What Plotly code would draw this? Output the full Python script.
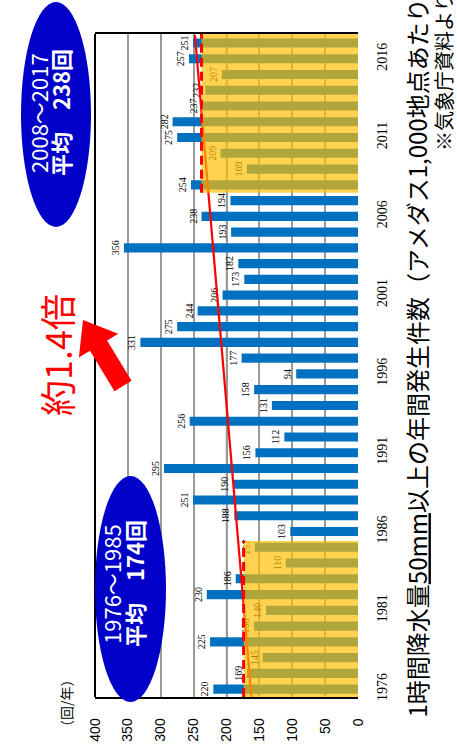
import plotly.graph_objects as go

# ---------------- data ----------------
years = list(range(1976, 2018))
counts = [220, 169, 145, 225, 158, 140, 230, 186, 110, 157,
          103, 188, 251, 190, 295, 156, 112, 256, 131, 158,
          94, 177, 331, 275, 244, 206, 173, 182, 356, 193,
          238, 194, 254, 169, 209, 275, 282, 237, 232, 207,
          257, 251]
year_ticks = [1976, 1981, 1986, 1991, 1996, 2001, 2006, 2011, 2016]
value_ticks = [0, 50, 100, 150, 200, 250, 300, 350, 400]

period_labels = ["1976～1985", "2008～2017"]
period_avgs = [174, 238]
period_from = [1975.5, 2007.5]
period_to = [1985.4, 2017.57]

trend_years = [1975.5, 2017.5]
trend_vals = [162, 248]

title_text = "1時間降水量<u>50mm</u>以上の年間発生件数（アメダス1,000地点あたり）"
source_text = "※気象庁資料より"
unit_text = "（回/年）"
ratio_text = "約1.4倍"

# ---------------- layout helpers ----------------
W, H = 457, 753
L, R, T, B = 95, 99, 34, 56
pw, ph = W - L - R, H - T - B
YR = [1975.5, 2017.57]


def px(x):
    return (x - L) / pw


def py(y):
    return (H - B - y) / ph


CJK = "Noto Sans CJK JP"
BLUE = "#0070C0"

fig = go.Figure()

fig.add_trace(go.Bar(
    x=counts, y=years, orientation="h",
    width=0.58,
    marker=dict(color=BLUE, line=dict(width=0)),
    text=[str(v) for v in counts],
    textposition="outside",
    textangle=-90,
    constraintext="none",
    cliponaxis=False,
    textfont=dict(family="Liberation Serif", size=10, color="black"),
    hoverinfo="skip",
))

fig.add_trace(go.Scatter(
    x=trend_vals, y=trend_years, mode="lines",
    line=dict(color="#FF0000", width=2.2),
    hoverinfo="skip",
))

shapes = []
# black reference line at 200 (between grid and bars)
shapes.append(dict(type="line", xref="x", yref="paper", x0=200, x1=200, y0=0, y1=1,
                   line=dict(color="black", width=1.2), layer="between"))

# highlighted periods
for a, y0, y1 in zip(period_avgs, period_from, period_to):
    shapes.append(dict(type="rect", xref="x", yref="y", x0=0, x1=a, y0=y0, y1=y1,
                       fillcolor="rgba(255,190,0,0.69)", line=dict(width=0), layer="above"))
for a, y0, y1 in zip(period_avgs, period_from, period_to):
    shapes.append(dict(type="line", xref="x", yref="y", x0=a, x1=a, y0=y0, y1=y1,
                       line=dict(color="#FF0000", width=3, dash="9px,5px"), layer="above"))

# left frame line
shapes.append(dict(type="line", xref="paper", yref="paper", x0=0, x1=0, y0=0, y1=1,
                   line=dict(color="black", width=2), layer="above"))

# ellipses
ELL = "#0000C8"
shapes.append(dict(type="circle", xref="paper", yref="paper",
                   x0=px(21), x1=px(91), y0=py(227), y1=py(2),
                   fillcolor=ELL, line=dict(width=0), layer="above"))
shapes.append(dict(type="circle", xref="paper", yref="paper",
                   x0=px(95), x1=px(166), y0=py(702), y1=py(476),
                   fillcolor=ELL, line=dict(width=0), layer="above"))

# red arrow (decoration)
import math
tail = (123.0, 386.0)
tip = (83.0, 320.0)
dx, dy = tip[0] - tail[0], tip[1] - tail[1]
ln = math.hypot(dx, dy)
ux, uy = dx / ln, dy / ln
nx, ny = -uy, ux
head_len, shaft_hw, head_hw = 30, 10, 23
bx, by = tip[0] - head_len * ux, tip[1] - head_len * uy
pts = [
    (tail[0] + shaft_hw * nx, tail[1] + shaft_hw * ny),
    (bx + shaft_hw * nx, by + shaft_hw * ny),
    (bx + head_hw * nx, by + head_hw * ny),
    tip,
    (bx - head_hw * nx, by - head_hw * ny),
    (bx - shaft_hw * nx, by - shaft_hw * ny),
    (tail[0] - shaft_hw * nx, tail[1] - shaft_hw * ny),
]
path = "M " + " L ".join(f"{px(a):.5f},{py(b):.5f}" for a, b in pts) + " Z"
shapes.append(dict(type="path", xref="paper", yref="paper", path=path,
                   fillcolor="#FF0000", line=dict(width=0), layer="above"))

annotations = []


def ann(text, x, y, size, color="black", xanchor="center", yanchor="middle", family=CJK):
    annotations.append(dict(text=text, x=px(x), y=py(y), xref="paper", yref="paper",
                            showarrow=False, textangle=-90, xanchor=xanchor, yanchor=yanchor,
                            font=dict(family=family, size=size, color=color)))


ann(title_text, 416, 720, 24, yanchor="bottom")
ann(source_text, 443, 153, 20, yanchor="bottom")
ann(unit_text, 66, 703, 14)
ann(ratio_text, 56, 355, 36, color="#FF0000")

# ellipse texts
ann(period_labels[1], 38, 113, 22, color="white")
ann(f"<b>平均　{period_avgs[1]}回</b>", 60, 113, 22, color="white")
ann(period_labels[0], 111, 584, 22, color="white")
ann(f"<b>平均　{period_avgs[0]}回</b>", 134, 584, 22, color="white")

fig.update_layout(
    width=W, height=H,
    margin=dict(l=L, r=R, t=T, b=B, pad=0),
    paper_bgcolor="white", plot_bgcolor="white",
    showlegend=False,
    bargap=0.4,
    shapes=shapes,
    annotations=annotations,
    xaxis=dict(range=[400, 0], tickvals=value_ticks, tickangle=-90,
               showgrid=True, gridcolor="#9a9a9a", gridwidth=1.5, zeroline=False,
               showline=True, linecolor="black", linewidth=1.5, mirror=True,
               ticks="", ticklabelstandoff=14,
               tickfont=dict(family="Liberation Sans", size=14, color="black")),
    yaxis=dict(range=YR, tickvals=year_ticks, tickangle=-90, side="right",
               showgrid=False, zeroline=False, showline=False,
               ticks="", ticklabelstandoff=14,
               tickfont=dict(family="Liberation Serif", size=14, color="black")),
)

fig.write_html("out.html")
